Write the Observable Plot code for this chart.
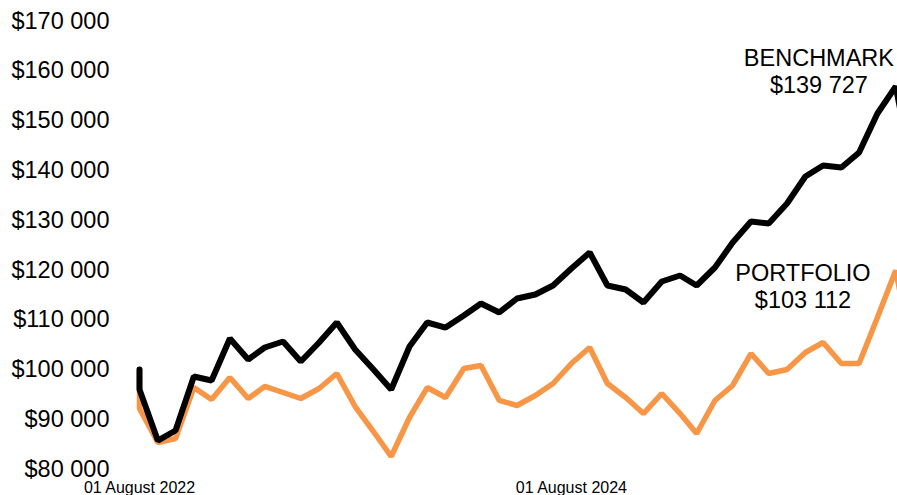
<!DOCTYPE html>
<html>
<head>
<meta charset="utf-8">
<script src="https://cdn.jsdelivr.net/npm/d3@7"></script>
<script src="https://cdn.jsdelivr.net/npm/@observablehq/plot@0.6"></script>
<style>
  html, body { margin: 0; padding: 0; background: #fff; }
  #chart { width: 897px; height: 495px; overflow: hidden; }
  #chart svg { overflow: hidden; }
</style>
</head>
<body>
<div id="chart"></div>
<script>
// Month-start dates (the first date appears twice: initial investment, then first valuation)
const dates = [
  "2022-08-01","2022-08-01","2022-09-01","2022-10-01","2022-11-01","2022-12-01",
  "2023-01-01","2023-02-01","2023-03-01","2023-04-01","2023-05-01","2023-06-01",
  "2023-07-01","2023-08-01","2023-09-01","2023-10-01","2023-11-01","2023-12-01",
  "2024-01-01","2024-02-01","2024-03-01","2024-04-01","2024-05-01","2024-06-01",
  "2024-07-01","2024-08-01","2024-09-01","2024-10-01","2024-11-01","2024-12-01",
  "2025-01-01","2025-02-01","2025-03-01","2025-04-01","2025-05-01","2025-06-01",
  "2025-07-01","2025-08-01","2025-09-01","2025-10-01","2025-11-01","2025-12-01",
  "2026-01-01","2026-02-01","2026-03-01"
];

const benchmark = [
  100000, 96000, 85760, 87770, 98610, 97810, 106250, 102030, 104440, 105640,
  101630, 105440, 109460, 104040, 100020, 96000, 104640, 109460, 108450, 110860,
  113270, 111470, 114280, 115080, 116890, 120300, 123510, 116890, 116080, 113470,
  117690, 118900, 116890, 120500, 125520, 129740, 129340, 133350, 138770, 140980,
  140580, 143590, 151430, 156850, 139727
];

const portfolio = [
  100000, 92190, 85360, 86160, 96400, 94000, 98410, 94200, 96610, 95400,
  94200, 96200, 99220, 92590, 87570, 82550, 90380, 96400, 94400, 100220,
  100820, 93800, 92790, 94800, 97210, 101220, 104440, 97210, 94400, 91180,
  95200, 91180, 87170, 93800, 96810, 103230, 99220, 100020, 103430, 105440,
  101220, 101220, 110460, 119900, 103112
];

const seriesNames = ["PORTFOLIO", "BENCHMARK"];
const seriesColors = ["#F79646", "#000000"];

const yTicks = [80000, 90000, 100000, 110000, 120000, 130000, 140000, 150000, 160000, 170000];
const xTickDates = ["2022-08-01", "2024-08-01"];
const xDomain = ["2022-08-01", "2026-02-04"];

// Label anchors (date, value) for the end-value annotations
const labelSeries = ["BENCHMARK", "PORTFOLIO"];
const labelDates = ["2025-09-24", "2025-08-28"];
const labelAnchorValues = [155640, 112270];

const money = d3.formatLocale({decimal: ".", thousands: " ", grouping: [3], currency: ["$", ""]}).format("$,.0f");

const rows = [];
dates.forEach((d, i) => {
  rows.push({date: new Date(d), value: portfolio[i], series: "PORTFOLIO"});
});
dates.forEach((d, i) => {
  rows.push({date: new Date(d), value: benchmark[i], series: "BENCHMARK"});
});

const lastValue = {BENCHMARK: benchmark[benchmark.length - 1], PORTFOLIO: portfolio[portfolio.length - 1]};
const labels = labelSeries.map((s, i) => ({
  date: new Date(labelDates[i]),
  value: labelAnchorValues[i],
  text: s + "\n" + money(lastValue[s])
}));

const chart = Plot.plot({
  width: 897,
  height: 495,
  marginLeft: 139,
  marginRight: 0,
  marginTop: 20.5,
  marginBottom: 26.3,
  style: {fontFamily: "'Liberation Sans', Arial, sans-serif", color: "#000", background: "#fff"},
  x: {type: "utc", domain: xDomain.map(d => new Date(d))},
  y: {domain: [80000, 170000]},
  color: {domain: seriesNames, range: seriesColors},
  marks: [
    Plot.axisY({ticks: yTicks, tickFormat: money, tickSize: 0, tickPadding: 30, fontSize: 23.5, label: null}),
    Plot.axisX({ticks: xTickDates.map(d => new Date(d)), tickFormat: d3.utcFormat("%d %B %Y"), tickSize: 0, tickPadding: 12, fontSize: 16, label: null}),
    Plot.line(rows.filter(r => r.series === "PORTFOLIO"), {x: "date", y: "value", stroke: "series", strokeWidth: 5.5, strokeLinejoin: "miter", strokeLinecap: "round"}),
    Plot.line(rows.filter(r => r.series === "BENCHMARK"), {x: "date", y: "value", stroke: "series", strokeWidth: 6, strokeLinejoin: "miter", strokeLinecap: "round"}),
    Plot.text(labels, {x: "date", y: "value", text: "text", lineAnchor: "bottom", lineHeight: 1.149, fontSize: 23.5, fill: "#000", textAnchor: "middle"})
  ]
});
document.getElementById("chart").appendChild(chart);
</script>
</body>
</html>
